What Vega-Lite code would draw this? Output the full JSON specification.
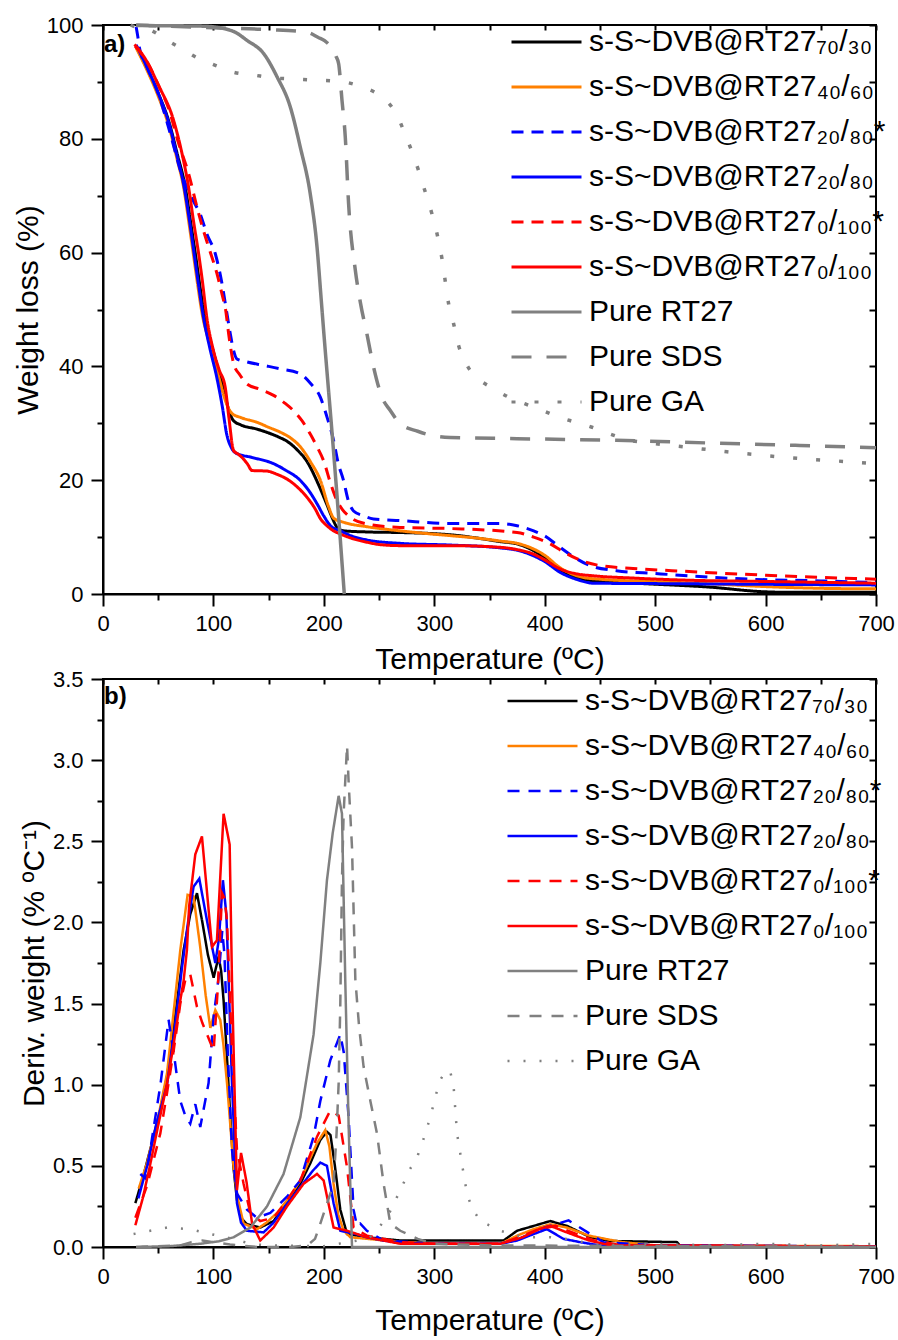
{
  "$schema": "https://vega.github.io/schema/vega-lite/v6.json",
  "padding": {"left": 12, "top": 13, "right": 4, "bottom": 4},
  "bounds": "flush",
  "spacing": 85,
  "config": {
    "font": "Liberation Sans",
    "view": {"stroke": "black", "strokeWidth": 2},
    "axis": {"domainColor": "black", "domainWidth": 2, "tickColor": "black", "tickWidth": 2, "tickSize": 12, "labelFont": "Liberation Sans", "labelFontSize": 22, "labelColor": "black", "titleFont": "Liberation Sans", "titleFontSize": 30, "titleFontWeight": "normal", "titleColor": "black", "grid": false, "labelFlush": false, "labelOverlap": false},
    "axisX": {"labelPadding": 7},
    "axisY": {"labelPadding": 8, "titlePadding": 3},
    "legend": {"labelFont": "Liberation Sans", "labelColor": "black", "labelFontSize": 30, "labelLimit": 600, "padding": 0}
  },
  "resolve": {"scale": {"color": "independent", "strokeDash": "independent"}, "legend": {"color": "independent", "strokeDash": "independent"}},
  "datasets": {
    "tga": [
      {"s":"70/30","t":30,"w":96.2},{"s":"70/30","t":40,"w":92.3},{"s":"70/30","t":50,"w":88},{"s":"70/30","t":60,"w":82.8},{"s":"70/30","t":67,"w":77.5},{"s":"70/30","t":74.5,"w":71.5},{"s":"70/30","t":80,"w":64.5},{"s":"70/30","t":84,"w":59.3},{"s":"70/30","t":88,"w":53.8},{"s":"70/30","t":92,"w":48.8},{"s":"70/30","t":96,"w":45.5},{"s":"70/30","t":100,"w":42.5},{"s":"70/30","t":105,"w":39},{"s":"70/30","t":110,"w":35.3},{"s":"70/30","t":114,"w":32.3},{"s":"70/30","t":118,"w":30.5},{"s":"70/30","t":125,"w":29.7},{"s":"70/30","t":139,"w":29},{"s":"70/30","t":150,"w":28.3},{"s":"70/30","t":160,"w":27.5},{"s":"70/30","t":167,"w":26.8},{"s":"70/30","t":175,"w":25.5},{"s":"70/30","t":185,"w":23.2},{"s":"70/30","t":195,"w":19.3},{"s":"70/30","t":203,"w":15.6},{"s":"70/30","t":208,"w":13.2},{"s":"70/30","t":212,"w":11.7},{"s":"70/30","t":218,"w":11.1},{"s":"70/30","t":240,"w":10.9},{"s":"70/30","t":270,"w":10.8},{"s":"70/30","t":300,"w":10.6},{"s":"70/30","t":315,"w":10.4},{"s":"70/30","t":340,"w":9.8},{"s":"70/30","t":360,"w":9.2},{"s":"70/30","t":375,"w":8.8},{"s":"70/30","t":390,"w":7.6},{"s":"70/30","t":400,"w":6.3},{"s":"70/30","t":414,"w":4.1},{"s":"70/30","t":425,"w":3.2},{"s":"70/30","t":435,"w":2.6},{"s":"70/30","t":450,"w":2.2},{"s":"70/30","t":470,"w":2.0},{"s":"70/30","t":496,"w":1.76},{"s":"70/30","t":550,"w":1.2},{"s":"70/30","t":598,"w":0.4},{"s":"70/30","t":620,"w":0.3},{"s":"70/30","t":700,"w":0.3},
      {"s":"40/60","t":30,"w":96},{"s":"40/60","t":40,"w":92},{"s":"40/60","t":50,"w":87.5},{"s":"40/60","t":60,"w":82},{"s":"40/60","t":67,"w":76.5},{"s":"40/60","t":73,"w":71.5},{"s":"40/60","t":78,"w":65},{"s":"40/60","t":82,"w":59.5},{"s":"40/60","t":86,"w":54},{"s":"40/60","t":90,"w":49},{"s":"40/60","t":95,"w":45},{"s":"40/60","t":100,"w":41.5},{"s":"40/60","t":105,"w":38},{"s":"40/60","t":110,"w":34.5},{"s":"40/60","t":114,"w":32.5},{"s":"40/60","t":117,"w":31.7},{"s":"40/60","t":125,"w":31},{"s":"40/60","t":139,"w":30.2},{"s":"40/60","t":150,"w":29.3},{"s":"40/60","t":161,"w":28.4},{"s":"40/60","t":170,"w":27.4},{"s":"40/60","t":179,"w":25.8},{"s":"40/60","t":188,"w":23.2},{"s":"40/60","t":197,"w":19.9},{"s":"40/60","t":204,"w":15.5},{"s":"40/60","t":209,"w":13.3},{"s":"40/60","t":218,"w":12.6},{"s":"40/60","t":240,"w":11.8},{"s":"40/60","t":269,"w":11.1},{"s":"40/60","t":300,"w":10.5},{"s":"40/60","t":315,"w":10.25},{"s":"40/60","t":340,"w":9.8},{"s":"40/60","t":360,"w":9.3},{"s":"40/60","t":375,"w":8.9},{"s":"40/60","t":390,"w":7.9},{"s":"40/60","t":400,"w":6.8},{"s":"40/60","t":414,"w":4.6},{"s":"40/60","t":425,"w":3.5},{"s":"40/60","t":435,"w":2.9},{"s":"40/60","t":450,"w":2.6},{"s":"40/60","t":496,"w":2.2},{"s":"40/60","t":550,"w":1.8},{"s":"40/60","t":600,"w":1.3},{"s":"40/60","t":650,"w":1.0},{"s":"40/60","t":700,"w":0.9},
      {"s":"20/80*","t":30,"w":99.7},{"s":"20/80*","t":31.5,"w":98},{"s":"20/80*","t":33,"w":96},{"s":"20/80*","t":40,"w":92.5},{"s":"20/80*","t":50,"w":88},{"s":"20/80*","t":57.6,"w":83.2},{"s":"20/80*","t":65,"w":78},{"s":"20/80*","t":70,"w":74.5},{"s":"20/80*","t":76,"w":71.5},{"s":"20/80*","t":82,"w":69},{"s":"20/80*","t":88,"w":66.8},{"s":"20/80*","t":94,"w":63.3},{"s":"20/80*","t":101.7,"w":59.8},{"s":"20/80*","t":107.8,"w":54.5},{"s":"20/80*","t":112.3,"w":49.2},{"s":"20/80*","t":115.3,"w":45.7},{"s":"20/80*","t":118,"w":43},{"s":"20/80*","t":121.3,"w":41.3},{"s":"20/80*","t":130,"w":40.8},{"s":"20/80*","t":145,"w":40.2},{"s":"20/80*","t":160,"w":39.6},{"s":"20/80*","t":178.7,"w":38.7},{"s":"20/80*","t":188,"w":37},{"s":"20/80*","t":196.8,"w":34.6},{"s":"20/80*","t":203,"w":31},{"s":"20/80*","t":208.8,"w":27},{"s":"20/80*","t":213,"w":23},{"s":"20/80*","t":217.9,"w":19.9},{"s":"20/80*","t":222,"w":16.5},{"s":"20/80*","t":226.9,"w":14.6},{"s":"20/80*","t":235,"w":13.8},{"s":"20/80*","t":245,"w":13.2},{"s":"20/80*","t":269,"w":12.9},{"s":"20/80*","t":315,"w":12.4},{"s":"20/80*","t":360,"w":12.4},{"s":"20/80*","t":375,"w":12},{"s":"20/80*","t":390,"w":11.1},{"s":"20/80*","t":400,"w":10.2},{"s":"20/80*","t":414,"w":8.2},{"s":"20/80*","t":428,"w":6.3},{"s":"20/80*","t":441,"w":5.0},{"s":"20/80*","t":465,"w":4.1},{"s":"20/80*","t":500,"w":3.6},{"s":"20/80*","t":586,"w":2.6},{"s":"20/80*","t":650,"w":2.3},{"s":"20/80*","t":700,"w":2.0},
      {"s":"20/80","t":30,"w":96.5},{"s":"20/80","t":40,"w":92.5},{"s":"20/80","t":50,"w":88},{"s":"20/80","t":60,"w":82.5},{"s":"20/80","t":67,"w":77},{"s":"20/80","t":73,"w":72},{"s":"20/80","t":78,"w":66},{"s":"20/80","t":82,"w":60.5},{"s":"20/80","t":86,"w":55},{"s":"20/80","t":91,"w":48.6},{"s":"20/80","t":97,"w":43},{"s":"20/80","t":103,"w":38.1},{"s":"20/80","t":108,"w":33},{"s":"20/80","t":112,"w":28.1},{"s":"20/80","t":116,"w":25.8},{"s":"20/80","t":121,"w":24.7},{"s":"20/80","t":135,"w":24},{"s":"20/80","t":154.5,"w":22.9},{"s":"20/80","t":165,"w":21.8},{"s":"20/80","t":179,"w":19.9},{"s":"20/80","t":187,"w":18},{"s":"20/80","t":194,"w":15.8},{"s":"20/80","t":200,"w":13.7},{"s":"20/80","t":206,"w":12.0},{"s":"20/80","t":215,"w":11.1},{"s":"20/80","t":225,"w":10.2},{"s":"20/80","t":239,"w":9.5},{"s":"20/80","t":269,"w":8.9},{"s":"20/80","t":315,"w":8.6},{"s":"20/80","t":360,"w":8.1},{"s":"20/80","t":375,"w":7.7},{"s":"20/80","t":390,"w":6.7},{"s":"20/80","t":400,"w":5.7},{"s":"20/80","t":414,"w":3.8},{"s":"20/80","t":430,"w":2.5},{"s":"20/80","t":444,"w":1.9},{"s":"20/80","t":525,"w":1.8},{"s":"20/80","t":600,"w":1.7},{"s":"20/80","t":700,"w":1.6},
      {"s":"0/100*","t":29,"w":96.3},{"s":"0/100*","t":40,"w":93.5},{"s":"0/100*","t":50,"w":89.5},{"s":"0/100*","t":60,"w":85},{"s":"0/100*","t":68,"w":79.5},{"s":"0/100*","t":77.5,"w":73.9},{"s":"0/100*","t":85.1,"w":68},{"s":"0/100*","t":90,"w":64.5},{"s":"0/100*","t":95.6,"w":61},{"s":"0/100*","t":103.2,"w":56.3},{"s":"0/100*","t":108,"w":52.5},{"s":"0/100*","t":111,"w":50},{"s":"0/100*","t":113.8,"w":45.7},{"s":"0/100*","t":118.3,"w":40.5},{"s":"0/100*","t":124,"w":38.5},{"s":"0/100*","t":130.4,"w":36.9},{"s":"0/100*","t":142,"w":36},{"s":"0/100*","t":154.5,"w":34.9},{"s":"0/100*","t":165,"w":33.5},{"s":"0/100*","t":172.6,"w":32.2},{"s":"0/100*","t":180,"w":30.5},{"s":"0/100*","t":187.7,"w":28.1},{"s":"0/100*","t":194,"w":25.8},{"s":"0/100*","t":199.8,"w":23.4},{"s":"0/100*","t":206,"w":19.5},{"s":"0/100*","t":211.9,"w":16.4},{"s":"0/100*","t":217,"w":14.8},{"s":"0/100*","t":223.9,"w":13.5},{"s":"0/100*","t":239,"w":12.3},{"s":"0/100*","t":269,"w":11.7},{"s":"0/100*","t":315,"w":11.5},{"s":"0/100*","t":375,"w":10.8},{"s":"0/100*","t":390,"w":10},{"s":"0/100*","t":405,"w":8.8},{"s":"0/100*","t":417,"w":7.4},{"s":"0/100*","t":429,"w":6.2},{"s":"0/100*","t":450,"w":5},{"s":"0/100*","t":480,"w":4.5},{"s":"0/100*","t":525,"w":4},{"s":"0/100*","t":600,"w":3.3},{"s":"0/100*","t":700,"w":2.6},
      {"s":"0/100","t":28.6,"w":96.6},{"s":"0/100","t":40,"w":93.5},{"s":"0/100","t":50,"w":89.5},{"s":"0/100","t":64,"w":83.2},{"s":"0/100","t":72,"w":77},{"s":"0/100","t":77.5,"w":71.5},{"s":"0/100","t":82,"w":65.5},{"s":"0/100","t":86.6,"w":59.8},{"s":"0/100","t":90,"w":55},{"s":"0/100","t":94,"w":48.6},{"s":"0/100","t":100,"w":42.8},{"s":"0/100","t":105,"w":39.5},{"s":"0/100","t":110.7,"w":36.3},{"s":"0/100","t":114,"w":31},{"s":"0/100","t":118.3,"w":25.2},{"s":"0/100","t":123,"w":24.5},{"s":"0/100","t":127.3,"w":23.7},{"s":"0/100","t":131,"w":22.8},{"s":"0/100","t":134.9,"w":21.7},{"s":"0/100","t":148.5,"w":21.6},{"s":"0/100","t":158,"w":21},{"s":"0/100","t":166.6,"w":20.2},{"s":"0/100","t":176,"w":18.8},{"s":"0/100","t":184.7,"w":17},{"s":"0/100","t":192,"w":15},{"s":"0/100","t":197,"w":13.2},{"s":"0/100","t":202.8,"w":12},{"s":"0/100","t":208,"w":11.2},{"s":"0/100","t":214.9,"w":10.55},{"s":"0/100","t":225,"w":9.8},{"s":"0/100","t":239,"w":9.1},{"s":"0/100","t":250,"w":8.7},{"s":"0/100","t":269,"w":8.5},{"s":"0/100","t":315,"w":8.5},{"s":"0/100","t":360,"w":8.2},{"s":"0/100","t":375,"w":7.8},{"s":"0/100","t":390,"w":7},{"s":"0/100","t":400,"w":6},{"s":"0/100","t":414,"w":4.4},{"s":"0/100","t":430,"w":3.5},{"s":"0/100","t":444,"w":3.2},{"s":"0/100","t":480,"w":2.8},{"s":"0/100","t":525,"w":2.45},{"s":"0/100","t":600,"w":2.2},{"s":"0/100","t":700,"w":1.9},
      {"s":"Pure RT27","t":30,"w":99.9},{"s":"Pure RT27","t":90,"w":99.8},{"s":"Pure RT27","t":109,"w":99.4},{"s":"Pure RT27","t":120,"w":98.7},{"s":"Pure RT27","t":130.4,"w":97.3},{"s":"Pure RT27","t":145.4,"w":95},{"s":"Pure RT27","t":157.6,"w":90.9},{"s":"Pure RT27","t":169.6,"w":85.6},{"s":"Pure RT27","t":178.7,"w":78.5},{"s":"Pure RT27","t":187.7,"w":70.3},{"s":"Pure RT27","t":193.8,"w":61},{"s":"Pure RT27","t":197.5,"w":52},{"s":"Pure RT27","t":199.8,"w":46.3},{"s":"Pure RT27","t":208.8,"w":25},{"s":"Pure RT27","t":213,"w":14.5},{"s":"Pure RT27","t":218.5,"w":0},
      {"s":"Pure SDS","t":30,"w":100},{"s":"Pure SDS","t":100,"w":99.5},{"s":"Pure SDS","t":150,"w":99.2},{"s":"Pure SDS","t":185,"w":98.7},{"s":"Pure SDS","t":195,"w":97.8},{"s":"Pure SDS","t":201,"w":97.2},{"s":"Pure SDS","t":207,"w":96},{"s":"Pure SDS","t":211,"w":94.5},{"s":"Pure SDS","t":213.4,"w":93.2},{"s":"Pure SDS","t":216.4,"w":86.8},{"s":"Pure SDS","t":219.4,"w":80.3},{"s":"Pure SDS","t":222.4,"w":68.6},{"s":"Pure SDS","t":228.5,"w":56.9},{"s":"Pure SDS","t":233,"w":51.3},{"s":"Pure SDS","t":239,"w":45.7},{"s":"Pure SDS","t":245,"w":39.9},{"s":"Pure SDS","t":252.6,"w":34.6},{"s":"Pure SDS","t":260,"w":32.3},{"s":"Pure SDS","t":269.2,"w":29.9},{"s":"Pure SDS","t":285,"w":28.6},{"s":"Pure SDS","t":299.4,"w":27.8},{"s":"Pure SDS","t":314.5,"w":27.5},{"s":"Pure SDS","t":375,"w":27.3},{"s":"Pure SDS","t":465,"w":27},{"s":"Pure SDS","t":556,"w":26.5},{"s":"Pure SDS","t":631,"w":26.1},{"s":"Pure SDS","t":700,"w":25.7},
      {"s":"Pure GA","t":25,"w":100},{"s":"Pure GA","t":30,"w":99.6},{"s":"Pure GA","t":42.9,"w":99.1},{"s":"Pure GA","t":58,"w":97.3},{"s":"Pure GA","t":71.5,"w":95.8},{"s":"Pure GA","t":86.6,"w":94.1},{"s":"Pure GA","t":101.7,"w":92.9},{"s":"Pure GA","t":118.3,"w":91.7},{"s":"Pure GA","t":136.4,"w":91.2},{"s":"Pure GA","t":154.5,"w":90.7},{"s":"Pure GA","t":174,"w":90.5},{"s":"Pure GA","t":192.3,"w":90.3},{"s":"Pure GA","t":205.8,"w":90.2},{"s":"Pure GA","t":221,"w":89.9},{"s":"Pure GA","t":232,"w":89.3},{"s":"Pure GA","t":239,"w":88.8},{"s":"Pure GA","t":246,"w":88.2},{"s":"Pure GA","t":253,"w":87.3},{"s":"Pure GA","t":259,"w":86.2},{"s":"Pure GA","t":264.7,"w":84.7},{"s":"Pure GA","t":272.2,"w":81.5},{"s":"Pure GA","t":279.8,"w":77.7},{"s":"Pure GA","t":285.8,"w":74.4},{"s":"Pure GA","t":291.9,"w":70.6},{"s":"Pure GA","t":297.9,"w":66.8},{"s":"Pure GA","t":302.5,"w":63.3},{"s":"Pure GA","t":307,"w":58.9},{"s":"Pure GA","t":313,"w":51},{"s":"Pure GA","t":317.5,"w":47.5},{"s":"Pure GA","t":322,"w":43.7},{"s":"Pure GA","t":329.6,"w":40.2},{"s":"Pure GA","t":340.1,"w":37.8},{"s":"Pure GA","t":353.7,"w":36.1},{"s":"Pure GA","t":367.3,"w":34.6},{"s":"Pure GA","t":382.4,"w":33.4},{"s":"Pure GA","t":396,"w":32.4},{"s":"Pure GA","t":412.6,"w":31.1},{"s":"Pure GA","t":427.7,"w":30.2},{"s":"Pure GA","t":442.8,"w":29.3},{"s":"Pure GA","t":459.4,"w":28.1},{"s":"Pure GA","t":477.5,"w":27},{"s":"Pure GA","t":492.6,"w":26.6},{"s":"Pure GA","t":528.8,"w":25.8},{"s":"Pure GA","t":565,"w":25},{"s":"Pure GA","t":601.3,"w":24.3},{"s":"Pure GA","t":631.4,"w":23.8},{"s":"Pure GA","t":670.6,"w":23.3},{"s":"Pure GA","t":700,"w":22.9}
    ],
    "dtg": [
      {"s":"70/30","t":29.3,"d":0.27},{"s":"70/30","t":37,"d":0.45},{"s":"70/30","t":45.8,"d":0.68},{"s":"70/30","t":52,"d":0.85},{"s":"70/30","t":58,"d":1.05},{"s":"70/30","t":65,"d":1.4},{"s":"70/30","t":73,"d":1.83},{"s":"70/30","t":79,"d":2.05},{"s":"70/30","t":85.1,"d":2.18},{"s":"70/30","t":90,"d":2.0},{"s":"70/30","t":95,"d":1.8},{"s":"70/30","t":100.2,"d":1.66},{"s":"70/30","t":104.7,"d":1.79},{"s":"70/30","t":107,"d":1.7},{"s":"70/30","t":109.2,"d":1.52},{"s":"70/30","t":112,"d":1.2},{"s":"70/30","t":115.3,"d":0.8},{"s":"70/30","t":118,"d":0.5},{"s":"70/30","t":121.3,"d":0.29},{"s":"70/30","t":125,"d":0.18},{"s":"70/30","t":130.4,"d":0.14},{"s":"70/30","t":142.4,"d":0.12},{"s":"70/30","t":154.5,"d":0.16},{"s":"70/30","t":166,"d":0.27},{"s":"70/30","t":178.7,"d":0.39},{"s":"70/30","t":188,"d":0.52},{"s":"70/30","t":196.8,"d":0.66},{"s":"70/30","t":202.8,"d":0.71},{"s":"70/30","t":206,"d":0.69},{"s":"70/30","t":210,"d":0.5},{"s":"70/30","t":214.9,"d":0.23},{"s":"70/30","t":221,"d":0.08},{"s":"70/30","t":239,"d":0.06},{"s":"70/30","t":269,"d":0.04},{"s":"70/30","t":300,"d":0.04},{"s":"70/30","t":362.8,"d":0.04},{"s":"70/30","t":374.9,"d":0.1},{"s":"70/30","t":390,"d":0.13},{"s":"70/30","t":405,"d":0.16},{"s":"70/30","t":420.2,"d":0.13},{"s":"70/30","t":441.3,"d":0.06},{"s":"70/30","t":459.4,"d":0.037},{"s":"70/30","t":519.8,"d":0.03},{"s":"70/30","t":522.8,"d":0.005},{"s":"70/30","t":600,"d":0.005},{"s":"70/30","t":700,"d":0.003},
      {"s":"40/60","t":32.3,"d":0.36},{"s":"40/60","t":40,"d":0.52},{"s":"40/60","t":50,"d":0.8},{"s":"40/60","t":58,"d":1.07},{"s":"40/60","t":64,"d":1.45},{"s":"40/60","t":70,"d":1.83},{"s":"40/60","t":76.6,"d":2.17},{"s":"40/60","t":82,"d":2.16},{"s":"40/60","t":88,"d":1.85},{"s":"40/60","t":93,"d":1.55},{"s":"40/60","t":97.2,"d":1.35},{"s":"40/60","t":101.7,"d":1.46},{"s":"40/60","t":106.2,"d":1.4},{"s":"40/60","t":109,"d":1.25},{"s":"40/60","t":112.3,"d":1.01},{"s":"40/60","t":118.3,"d":0.49},{"s":"40/60","t":122,"d":0.3},{"s":"40/60","t":127.3,"d":0.144},{"s":"40/60","t":139.5,"d":0.11},{"s":"40/60","t":148,"d":0.15},{"s":"40/60","t":157.6,"d":0.21},{"s":"40/60","t":168,"d":0.3},{"s":"40/60","t":178.7,"d":0.41},{"s":"40/60","t":193.8,"d":0.64},{"s":"40/60","t":201.3,"d":0.72},{"s":"40/60","t":205,"d":0.62},{"s":"40/60","t":208.8,"d":0.39},{"s":"40/60","t":213,"d":0.2},{"s":"40/60","t":217.9,"d":0.1},{"s":"40/60","t":224,"d":0.06},{"s":"40/60","t":240,"d":0.05},{"s":"40/60","t":269,"d":0.03},{"s":"40/60","t":300,"d":0.02},{"s":"40/60","t":360,"d":0.02},{"s":"40/60","t":375,"d":0.07},{"s":"40/60","t":390,"d":0.11},{"s":"40/60","t":405,"d":0.14},{"s":"40/60","t":420,"d":0.12},{"s":"40/60","t":440,"d":0.07},{"s":"40/60","t":470,"d":0.03},{"s":"40/60","t":500,"d":0.01},{"s":"40/60","t":700,"d":0.005},
      {"s":"20/80*","t":33.8,"d":0.45},{"s":"20/80*","t":39,"d":0.42},{"s":"20/80*","t":44.4,"d":0.67},{"s":"20/80*","t":52,"d":1.0},{"s":"20/80*","t":59.4,"d":1.4},{"s":"20/80*","t":65,"d":1.15},{"s":"20/80*","t":70,"d":0.9},{"s":"20/80*","t":75,"d":0.8},{"s":"20/80*","t":79,"d":0.76},{"s":"20/80*","t":83.6,"d":0.88},{"s":"20/80*","t":88.1,"d":0.74},{"s":"20/80*","t":95.6,"d":1.01},{"s":"20/80*","t":100.2,"d":1.42},{"s":"20/80*","t":104.7,"d":1.66},{"s":"20/80*","t":108,"d":1.95},{"s":"20/80*","t":110,"d":1.8},{"s":"20/80*","t":113,"d":1.2},{"s":"20/80*","t":116.8,"d":0.6},{"s":"20/80*","t":121.3,"d":0.33},{"s":"20/80*","t":130.4,"d":0.23},{"s":"20/80*","t":139.5,"d":0.18},{"s":"20/80*","t":151.5,"d":0.21},{"s":"20/80*","t":166.6,"d":0.31},{"s":"20/80*","t":178.7,"d":0.41},{"s":"20/80*","t":190.7,"d":0.68},{"s":"20/80*","t":196.8,"d":0.9},{"s":"20/80*","t":205.8,"d":1.15},{"s":"20/80*","t":214.9,"d":1.31},{"s":"20/80*","t":218,"d":1.2},{"s":"20/80*","t":222.4,"d":0.8},{"s":"20/80*","t":226.9,"d":0.23},{"s":"20/80*","t":230,"d":0.13},{"s":"20/80*","t":233,"d":0.144},{"s":"20/80*","t":239,"d":0.1},{"s":"20/80*","t":254,"d":0.04},{"s":"20/80*","t":300,"d":0.02},{"s":"20/80*","t":360,"d":0.02},{"s":"20/80*","t":380,"d":0.06},{"s":"20/80*","t":400,"d":0.12},{"s":"20/80*","t":421.6,"d":0.164},{"s":"20/80*","t":441.3,"d":0.08},{"s":"20/80*","t":453,"d":0.03},{"s":"20/80*","t":500,"d":0.01},{"s":"20/80*","t":700,"d":0.003},
      {"s":"20/80","t":32,"d":0.3},{"s":"20/80","t":40,"d":0.5},{"s":"20/80","t":48,"d":0.75},{"s":"20/80","t":58,"d":1.0},{"s":"20/80","t":65,"d":1.35},{"s":"20/80","t":71.5,"d":1.72},{"s":"20/80","t":77,"d":2.0},{"s":"20/80","t":82,"d":2.22},{"s":"20/80","t":87.2,"d":2.27},{"s":"20/80","t":94.2,"d":2.01},{"s":"20/80","t":101.7,"d":1.75},{"s":"20/80","t":105,"d":1.9},{"s":"20/80","t":108.6,"d":2.26},{"s":"20/80","t":111.7,"d":2.05},{"s":"20/80","t":113,"d":1.8},{"s":"20/80","t":116.8,"d":1.01},{"s":"20/80","t":121.3,"d":0.27},{"s":"20/80","t":125,"d":0.15},{"s":"20/80","t":130.4,"d":0.1},{"s":"20/80","t":145.4,"d":0.09},{"s":"20/80","t":154.5,"d":0.15},{"s":"20/80","t":166,"d":0.26},{"s":"20/80","t":178.7,"d":0.37},{"s":"20/80","t":190,"d":0.47},{"s":"20/80","t":196.8,"d":0.52},{"s":"20/80","t":202.8,"d":0.5},{"s":"20/80","t":208.8,"d":0.27},{"s":"20/80","t":214.9,"d":0.1},{"s":"20/80","t":229,"d":0.08},{"s":"20/80","t":239,"d":0.06},{"s":"20/80","t":254,"d":0.04},{"s":"20/80","t":269,"d":0.025},{"s":"20/80","t":300,"d":0.02},{"s":"20/80","t":360,"d":0.02},{"s":"20/80","t":375,"d":0.04},{"s":"20/80","t":390,"d":0.08},{"s":"20/80","t":402,"d":0.11},{"s":"20/80","t":417,"d":0.05},{"s":"20/80","t":432,"d":0.03},{"s":"20/80","t":450,"d":0.01},{"s":"20/80","t":700,"d":0.003},
      {"s":"0/100*","t":29.3,"d":0.18},{"s":"0/100*","t":40,"d":0.38},{"s":"0/100*","t":51.9,"d":0.7},{"s":"0/100*","t":58,"d":0.95},{"s":"0/100*","t":64,"d":1.21},{"s":"0/100*","t":70,"d":1.5},{"s":"0/100*","t":75,"d":1.66},{"s":"0/100*","t":79,"d":1.68},{"s":"0/100*","t":85.1,"d":1.48},{"s":"0/100*","t":90,"d":1.38},{"s":"0/100*","t":94.2,"d":1.31},{"s":"0/100*","t":100.2,"d":1.21},{"s":"0/100*","t":104,"d":1.6},{"s":"0/100*","t":107.8,"d":2.18},{"s":"0/100*","t":110,"d":2.15},{"s":"0/100*","t":112.3,"d":2.01},{"s":"0/100*","t":116.8,"d":1.21},{"s":"0/100*","t":121.3,"d":0.6},{"s":"0/100*","t":127.3,"d":0.39},{"s":"0/100*","t":133.4,"d":0.21},{"s":"0/100*","t":142.4,"d":0.16},{"s":"0/100*","t":154.5,"d":0.18},{"s":"0/100*","t":166,"d":0.28},{"s":"0/100*","t":178.7,"d":0.41},{"s":"0/100*","t":193.8,"d":0.68},{"s":"0/100*","t":205.8,"d":0.84},{"s":"0/100*","t":213.4,"d":0.81},{"s":"0/100*","t":221,"d":0.49},{"s":"0/100*","t":226.9,"d":0.12},{"s":"0/100*","t":239,"d":0.07},{"s":"0/100*","t":269,"d":0.03},{"s":"0/100*","t":300,"d":0.02},{"s":"0/100*","t":360,"d":0.02},{"s":"0/100*","t":380,"d":0.07},{"s":"0/100*","t":395,"d":0.11},{"s":"0/100*","t":410,"d":0.13},{"s":"0/100*","t":425,"d":0.09},{"s":"0/100*","t":445,"d":0.04},{"s":"0/100*","t":470,"d":0.01},{"s":"0/100*","t":700,"d":0.003},
      {"s":"0/100","t":29.3,"d":0.134},{"s":"0/100","t":36,"d":0.3},{"s":"0/100","t":42.8,"d":0.51},{"s":"0/100","t":50,"d":0.75},{"s":"0/100","t":58,"d":1.006},{"s":"0/100","t":64,"d":1.25},{"s":"0/100","t":70,"d":1.52},{"s":"0/100","t":73,"d":1.64},{"s":"0/100","t":76,"d":1.83},{"s":"0/100","t":78,"d":2.1},{"s":"0/100","t":83.6,"d":2.42},{"s":"0/100","t":89.6,"d":2.53},{"s":"0/100","t":94,"d":2.2},{"s":"0/100","t":98.7,"d":1.85},{"s":"0/100","t":103.2,"d":1.89},{"s":"0/100","t":109.2,"d":2.67},{"s":"0/100","t":114.7,"d":2.48},{"s":"0/100","t":116.8,"d":1.64},{"s":"0/100","t":118.3,"d":1.21},{"s":"0/100","t":121.3,"d":0.35},{"s":"0/100","t":125,"d":0.58},{"s":"0/100","t":130,"d":0.4},{"s":"0/100","t":135,"d":0.144},{"s":"0/100","t":142.4,"d":0.04},{"s":"0/100","t":154.5,"d":0.12},{"s":"0/100","t":166.6,"d":0.25},{"s":"0/100","t":181.7,"d":0.39},{"s":"0/100","t":193.8,"d":0.45},{"s":"0/100","t":199.8,"d":0.41},{"s":"0/100","t":208.8,"d":0.12},{"s":"0/100","t":221,"d":0.1},{"s":"0/100","t":239,"d":0.06},{"s":"0/100","t":269,"d":0.02},{"s":"0/100","t":300,"d":0.02},{"s":"0/100","t":360,"d":0.02},{"s":"0/100","t":380,"d":0.06},{"s":"0/100","t":395,"d":0.11},{"s":"0/100","t":405,"d":0.13},{"s":"0/100","t":420,"d":0.09},{"s":"0/100","t":440,"d":0.04},{"s":"0/100","t":460,"d":0.01},{"s":"0/100","t":700,"d":0.003},
      {"s":"Pure RT27","t":30,"d":0},{"s":"Pure RT27","t":60,"d":0.005},{"s":"Pure RT27","t":88,"d":0.02},{"s":"Pure RT27","t":105,"d":0.035},{"s":"Pure RT27","t":118.3,"d":0.06},{"s":"Pure RT27","t":133.4,"d":0.12},{"s":"Pure RT27","t":148.5,"d":0.25},{"s":"Pure RT27","t":163.5,"d":0.45},{"s":"Pure RT27","t":178.7,"d":0.8},{"s":"Pure RT27","t":190.7,"d":1.31},{"s":"Pure RT27","t":196.8,"d":1.75},{"s":"Pure RT27","t":202.8,"d":2.26},{"s":"Pure RT27","t":208,"d":2.55},{"s":"Pure RT27","t":213.4,"d":2.78},{"s":"Pure RT27","t":216.4,"d":2.67},{"s":"Pure RT27","t":219.4,"d":1.64},{"s":"Pure RT27","t":222.4,"d":0.76},{"s":"Pure RT27","t":225.5,"d":0},{"s":"Pure RT27","t":700,"d":0},
      {"s":"Pure SDS","t":30,"d":0},{"s":"Pure SDS","t":70,"d":0.01},{"s":"Pure SDS","t":80,"d":0.03},{"s":"Pure SDS","t":90,"d":0.04},{"s":"Pure SDS","t":100,"d":0.03},{"s":"Pure SDS","t":115,"d":0.015},{"s":"Pure SDS","t":140,"d":0},{"s":"Pure SDS","t":170,"d":0},{"s":"Pure SDS","t":185,"d":0.01},{"s":"Pure SDS","t":192,"d":0.05},{"s":"Pure SDS","t":196.8,"d":0.144},{"s":"Pure SDS","t":202,"d":0.25},{"s":"Pure SDS","t":208.8,"d":0.39},{"s":"Pure SDS","t":211.5,"d":0.7},{"s":"Pure SDS","t":213.4,"d":1.01},{"s":"Pure SDS","t":214.9,"d":1.5},{"s":"Pure SDS","t":216.4,"d":2.26},{"s":"Pure SDS","t":217.9,"d":2.67},{"s":"Pure SDS","t":221,"d":3.09},{"s":"Pure SDS","t":222.4,"d":2.87},{"s":"Pure SDS","t":225.5,"d":2.46},{"s":"Pure SDS","t":228.5,"d":1.65},{"s":"Pure SDS","t":232,"d":1.35},{"s":"Pure SDS","t":236,"d":1.11},{"s":"Pure SDS","t":242.1,"d":0.9},{"s":"Pure SDS","t":248.1,"d":0.7},{"s":"Pure SDS","t":254.1,"d":0.39},{"s":"Pure SDS","t":260.2,"d":0.144},{"s":"Pure SDS","t":269.2,"d":0.1},{"s":"Pure SDS","t":285,"d":0.05},{"s":"Pure SDS","t":299.4,"d":0.02},{"s":"Pure SDS","t":350,"d":0.01},{"s":"Pure SDS","t":700,"d":0},
      {"s":"Pure GA","t":27.7,"d":0.08},{"s":"Pure GA","t":42.8,"d":0.1},{"s":"Pure GA","t":58,"d":0.12},{"s":"Pure GA","t":79,"d":0.11},{"s":"Pure GA","t":97.2,"d":0.08},{"s":"Pure GA","t":118.3,"d":0.05},{"s":"Pure GA","t":133,"d":0.02},{"s":"Pure GA","t":148,"d":0.01},{"s":"Pure GA","t":200,"d":0.005},{"s":"Pure GA","t":240,"d":0.05},{"s":"Pure GA","t":248.1,"d":0.1},{"s":"Pure GA","t":260,"d":0.22},{"s":"Pure GA","t":269.2,"d":0.35},{"s":"Pure GA","t":278,"d":0.48},{"s":"Pure GA","t":284.3,"d":0.55},{"s":"Pure GA","t":290,"d":0.66},{"s":"Pure GA","t":296.4,"d":0.8},{"s":"Pure GA","t":302,"d":0.95},{"s":"Pure GA","t":305.4,"d":1.03},{"s":"Pure GA","t":311,"d":1.09},{"s":"Pure GA","t":314.5,"d":1.08},{"s":"Pure GA","t":317.5,"d":0.99},{"s":"Pure GA","t":320.6,"d":0.7},{"s":"Pure GA","t":325.1,"d":0.51},{"s":"Pure GA","t":329.6,"d":0.33},{"s":"Pure GA","t":334.1,"d":0.24},{"s":"Pure GA","t":341.7,"d":0.16},{"s":"Pure GA","t":359.8,"d":0.1},{"s":"Pure GA","t":380.9,"d":0.06},{"s":"Pure GA","t":405,"d":0.06},{"s":"Pure GA","t":420,"d":0.05},{"s":"Pure GA","t":450,"d":0.01},{"s":"Pure GA","t":500,"d":0.02},{"s":"Pure GA","t":550,"d":0.01},{"s":"Pure GA","t":600,"d":0.02},{"s":"Pure GA","t":650,"d":0.01},{"s":"Pure GA","t":700,"d":0.02}
    ]
  },
  "vconcat": [
    {
      "width": 773,
      "height": 569,
      "resolve": {"axis": {"x": "independent", "y": "independent"}},
      "layer": [
        {
          "data": {"name": "tga"},
          "transform": [{"filter": "indexof(datum.s, 'Pure') != 0"}],
          "mark": {"type": "line", "strokeWidth": 3, "interpolate": "monotone"},
          "encoding": {
            "x": {"field": "t", "type": "quantitative", "scale": {"domain": [0, 700], "nice": false}, "axis": {"orient": "bottom", "values": [0, 50, 100, 150, 200, 250, 300, 350, 400, 450, 500, 550, 600, 650, 700], "labelExpr": "datum.value % 100 == 0 ? datum.label : ''", "tickSize": {"condition": {"test": "datum.value % 100 != 0", "value": 6}, "value": 12}, "title": "Temperature (ºC)", "titlePadding": 10}},
            "y": {"field": "w", "type": "quantitative", "scale": {"domain": [0, 100], "nice": false}, "axis": {"orient": "left", "values": [0, 10, 20, 30, 40, 50, 60, 70, 80, 90, 100], "labelExpr": "datum.value % 20 == 0 ? datum.label : ''", "tickSize": {"condition": {"test": "datum.value % 20 != 0", "value": 6}, "value": 12}, "title": "Weight loss (%)"}},
            "color": {"field": "s", "type": "nominal", "scale": {"domain": ["70/30", "40/60", "20/80*", "20/80", "0/100*", "0/100", "Pure RT27", "Pure SDS", "Pure GA"], "range": ["#000000", "#FF8000", "#0000FF", "#0000FF", "#FF0000", "#FF0000", "#808080", "#808080", "#808080"]},
              "legend": {"title": null, "orient": "none", "legendX": 407, "legendY": -2, "symbolType": "M-1,0H3", "symbolSize": 1225, "symbolStrokeWidth": 3, "labelOffset": 41, "rowPadding": 11, "labelExpr": "datum.label == '70/30' ? 's-S~DVB@RT27₇₀/₃₀' : datum.label == '40/60' ? 's-S~DVB@RT27₄₀/₆₀' : datum.label == '20/80*' ? 's-S~DVB@RT27₂₀/₈₀*' : datum.label == '20/80' ? 's-S~DVB@RT27₂₀/₈₀' : datum.label == '0/100*' ? 's-S~DVB@RT27₀/₁₀₀*' : datum.label == '0/100' ? 's-S~DVB@RT27₀/₁₀₀' : datum.label"}},
            "strokeDash": {"field": "s", "type": "nominal", "scale": {"domain": ["70/30", "40/60", "20/80*", "20/80", "0/100*", "0/100", "Pure RT27", "Pure SDS", "Pure GA"], "range": [[1, 0], [1, 0], [12, 8], [1, 0], [12, 8], [1, 0], [1, 0], [20, 15], [4, 19]]},
              "legend": {"title": null, "orient": "none", "legendX": 407, "legendY": -2, "symbolType": "M-1,0H3", "symbolSize": 1225, "symbolStrokeWidth": 3, "labelOffset": 41, "rowPadding": 11, "labelExpr": "datum.label == '70/30' ? 's-S~DVB@RT27₇₀/₃₀' : datum.label == '40/60' ? 's-S~DVB@RT27₄₀/₆₀' : datum.label == '20/80*' ? 's-S~DVB@RT27₂₀/₈₀*' : datum.label == '20/80' ? 's-S~DVB@RT27₂₀/₈₀' : datum.label == '0/100*' ? 's-S~DVB@RT27₀/₁₀₀*' : datum.label == '0/100' ? 's-S~DVB@RT27₀/₁₀₀' : datum.label"}}
          }
        },
        {
          "data": {"name": "tga"},
          "transform": [{"filter": "indexof(datum.s, 'Pure') == 0"}],
          "mark": {"type": "line", "strokeWidth": 3.5, "interpolate": "monotone"},
          "encoding": {
            "x": {"field": "t", "type": "quantitative", "axis": {"orient": "top", "values": [0, 50, 100, 150, 200, 250, 300, 350, 400, 450, 500, 550, 600, 650, 700], "labels": false, "domain": false, "title": null, "tickSize": -5}},
            "y": {"field": "w", "type": "quantitative", "axis": {"orient": "right", "values": [0, 10, 20, 30, 40, 50, 60, 70, 80, 90, 100], "labels": false, "domain": false, "title": null, "tickSize": -7}},
            "color": {"field": "s", "type": "nominal"},
            "strokeDash": {"field": "s", "type": "nominal"}
          }
        },
        {
          "data": {"values": [{"label": "a)"}]},
          "mark": {"type": "text", "fontSize": 24, "fontWeight": "bold", "align": "left", "baseline": "alphabetic", "dx": 1, "dy": 27, "color": "black"},
          "encoding": {"x": {"datum": 0, "type": "quantitative", "axis": null}, "y": {"datum": 100, "type": "quantitative", "axis": null}, "text": {"field": "label"}}
        }
      ]
    },
    {
      "width": 773,
      "height": 568,
      "resolve": {"axis": {"x": "independent", "y": "independent"}},
      "layer": [
        {
          "data": {"name": "dtg"},
          "transform": [{"filter": "indexof(datum.s, 'Pure') != 0"}],
          "mark": {"type": "line", "strokeWidth": 2.5},
          "encoding": {
            "x": {"field": "t", "type": "quantitative", "scale": {"domain": [0, 700], "nice": false}, "axis": {"orient": "bottom", "values": [0, 50, 100, 150, 200, 250, 300, 350, 400, 450, 500, 550, 600, 650, 700], "labelExpr": "datum.value % 100 == 0 ? datum.label : ''", "tickSize": {"condition": {"test": "datum.value % 100 != 0", "value": 6}, "value": 12}, "title": "Temperature (ºC)", "titlePadding": 18}},
            "y": {"field": "d", "type": "quantitative", "scale": {"domain": [0, 3.5], "nice": false}, "axis": {"orient": "left", "values": [0, 0.25, 0.5, 0.75, 1, 1.25, 1.5, 1.75, 2, 2.25, 2.5, 2.75, 3, 3.25, 3.5], "format": ".1f", "labelExpr": "round(datum.value * 4) % 2 == 0 ? datum.label : ''", "tickSize": {"condition": {"test": "round(datum.value * 4) % 2 != 0", "value": 6}, "value": 12}, "title": "Deriv. weight (% ºC⁻¹)"}},
            "color": {"field": "s", "type": "nominal", "scale": {"domain": ["70/30", "40/60", "20/80*", "20/80", "0/100*", "0/100", "Pure RT27", "Pure SDS", "Pure GA"], "range": ["#000000", "#FF8000", "#0000FF", "#0000FF", "#FF0000", "#FF0000", "#808080", "#808080", "#808080"]},
              "legend": {"title": null, "orient": "none", "legendX": 403, "legendY": 3, "symbolType": "M-1,0H3", "symbolSize": 1225, "symbolStrokeWidth": 2.5, "labelOffset": 41, "rowPadding": 11, "labelExpr": "datum.label == '70/30' ? 's-S~DVB@RT27₇₀/₃₀' : datum.label == '40/60' ? 's-S~DVB@RT27₄₀/₆₀' : datum.label == '20/80*' ? 's-S~DVB@RT27₂₀/₈₀*' : datum.label == '20/80' ? 's-S~DVB@RT27₂₀/₈₀' : datum.label == '0/100*' ? 's-S~DVB@RT27₀/₁₀₀*' : datum.label == '0/100' ? 's-S~DVB@RT27₀/₁₀₀' : datum.label"}},
            "strokeDash": {"field": "s", "type": "nominal", "scale": {"domain": ["70/30", "40/60", "20/80*", "20/80", "0/100*", "0/100", "Pure RT27", "Pure SDS", "Pure GA"], "range": [[1, 0], [1, 0], [12, 9], [1, 0], [12, 9], [1, 0], [1, 0], [12, 10], [2, 14]]},
              "legend": {"title": null, "orient": "none", "legendX": 403, "legendY": 3, "symbolType": "M-1,0H3", "symbolSize": 1225, "symbolStrokeWidth": 2.5, "labelOffset": 41, "rowPadding": 11, "labelExpr": "datum.label == '70/30' ? 's-S~DVB@RT27₇₀/₃₀' : datum.label == '40/60' ? 's-S~DVB@RT27₄₀/₆₀' : datum.label == '20/80*' ? 's-S~DVB@RT27₂₀/₈₀*' : datum.label == '20/80' ? 's-S~DVB@RT27₂₀/₈₀' : datum.label == '0/100*' ? 's-S~DVB@RT27₀/₁₀₀*' : datum.label == '0/100' ? 's-S~DVB@RT27₀/₁₀₀' : datum.label"}}
          }
        },
        {
          "data": {"name": "dtg"},
          "transform": [{"filter": "indexof(datum.s, 'Pure') == 0"}],
          "mark": {"type": "line", "strokeWidth": 2.5},
          "encoding": {
            "x": {"field": "t", "type": "quantitative", "axis": {"orient": "top", "values": [0, 50, 100, 150, 200, 250, 300, 350, 400, 450, 500, 550, 600, 650, 700], "labels": false, "domain": false, "title": null, "tickSize": -5}},
            "y": {"field": "d", "type": "quantitative", "axis": {"orient": "right", "values": [0, 0.25, 0.5, 0.75, 1, 1.25, 1.5, 1.75, 2, 2.25, 2.5, 2.75, 3, 3.25, 3.5], "labels": false, "domain": false, "title": null, "tickSize": -7}},
            "color": {"field": "s", "type": "nominal"},
            "strokeDash": {"field": "s", "type": "nominal"}
          }
        },
        {
          "data": {"values": [{"label": "b)"}]},
          "mark": {"type": "text", "fontSize": 24, "fontWeight": "bold", "align": "left", "baseline": "alphabetic", "dx": 1, "dy": 25, "color": "black"},
          "encoding": {"x": {"datum": 0, "type": "quantitative", "axis": null}, "y": {"datum": 3.5, "type": "quantitative", "axis": null}, "text": {"field": "label"}}
        }
      ]
    }
  ]
}
